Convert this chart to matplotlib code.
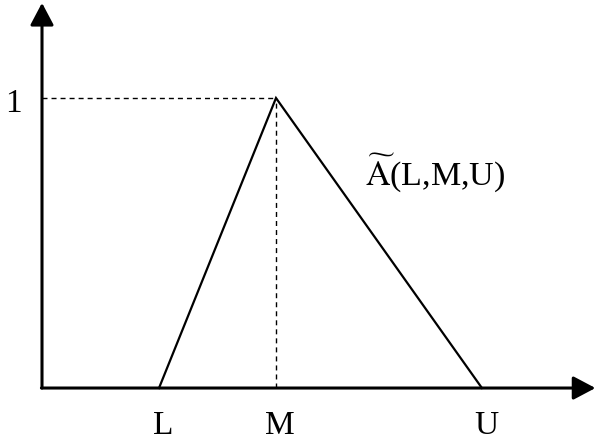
import matplotlib.pyplot as plt

plt.rcParams['font.family'] = ['Liberation Serif', 'DejaVu Serif']
plt.rcParams['mathtext.fontset'] = 'stix'

# triangular fuzzy number A(L, M, U)
tick_labels = ["L", "M", "U"]
fuzzy_x = [1.0, 2.0, 3.76]
membership = [0.0, 1.0, 0.0]
peak_label = "1"

fig = plt.figure(figsize=(5.96, 4.44), dpi=100)
ax = fig.add_axes([0, 0, 1, 1])
ax.set_xlim(-0.359, 4.735)
ax.set_ylim(-0.193, 1.338)
ax.axis("off")

# axes with arrow heads
arrow = dict(arrowstyle="-|>,head_length=0.68,head_width=0.36", color="black",
             lw=2.2, mutation_scale=20, shrinkA=0, shrinkB=0)
ax.annotate("", xy=(0, 1.328), xytext=(0, 0), arrowprops=arrow)
ax.annotate("", xy=(4.73, 0), xytext=(-0.005, 0), arrowprops=arrow)

# triangle
ax.plot(fuzzy_x, membership, color="black", lw=1.6, solid_joinstyle="miter")

# dashed guides to the peak
m = fuzzy_x[1]
dash = (0, (3.6, 2.9))
ax.plot([0, m], [1, 1], color="black", lw=1.0, linestyle=dash)
ax.plot([m, m], [0, 1], color="black", lw=1.0, linestyle=dash)

# labels
for x, lab in zip(fuzzy_x, tick_labels):
    ax.annotate(lab, xy=(x, 0), xytext=(3, -33), textcoords="offset points",
                ha="center", va="baseline", fontsize=24)
ax.annotate(peak_label, xy=(0, 1), xytext=(-20.5, -10), textcoords="offset points",
            ha="center", va="baseline", fontsize=24)
ax.text(2.76, 0.70, r"$\widetilde{\mathrm{A}}$(L,M,U)", fontsize=24.5,
        ha="left", va="baseline")

fig.savefig("out.png", dpi=100)
